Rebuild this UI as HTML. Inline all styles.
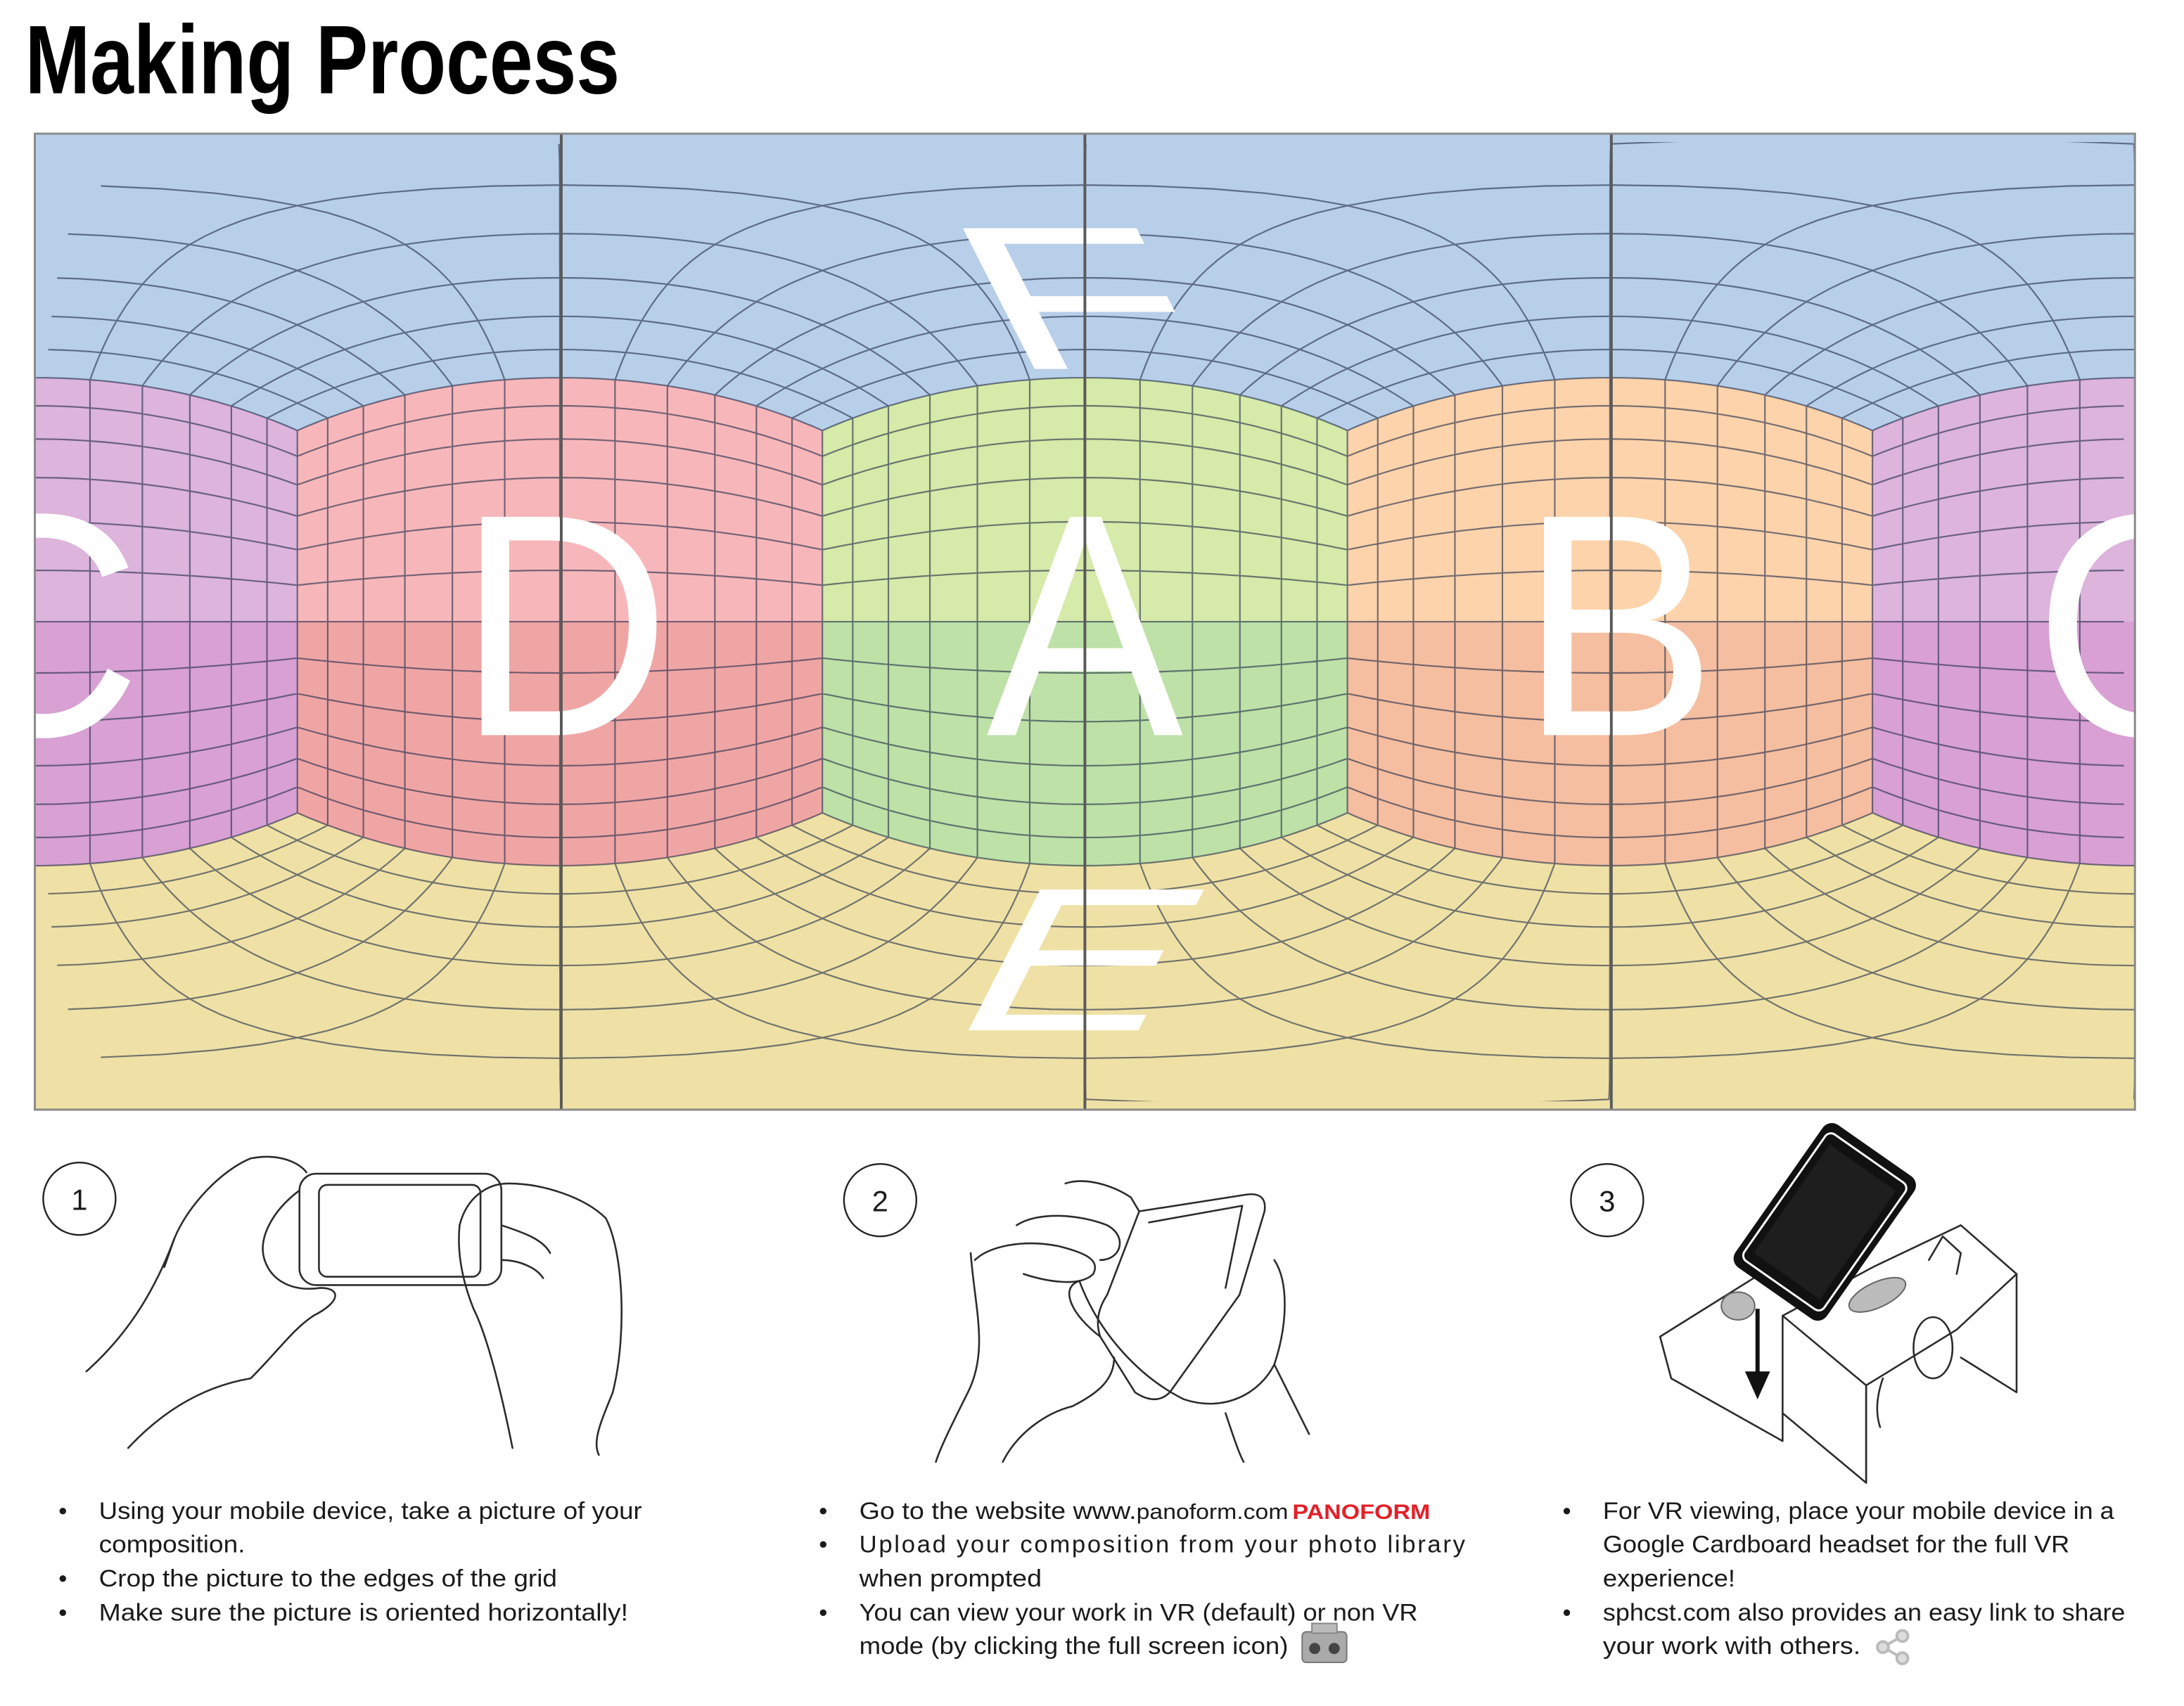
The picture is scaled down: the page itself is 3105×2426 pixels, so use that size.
<!DOCTYPE html>
<html><head><meta charset="utf-8"><style>
html,body{margin:0;padding:0;background:#fff;width:3105px;height:2426px;overflow:hidden}
svg{display:block}
.t{font-family:"Liberation Sans",sans-serif;font-size:17.5px;fill:#1a1a1a}
.ln{fill:none;stroke:#2b2b2b;stroke-width:1.3;stroke-linecap:round;stroke-linejoin:round}
</style></head><body>
<svg id="s" width="3105" height="2426" viewBox="0 0 1568.2 1225.3" xmlns="http://www.w3.org/2000/svg">
<defs><clipPath id="pc"><rect x="25" y="96" width="1508" height="701"/></clipPath>
<clipPath id="gc"><rect x="25" y="102" width="1508" height="689"/></clipPath></defs>
<text x="18" y="67" textLength="427" lengthAdjust="spacingAndGlyphs" style="font-family:'Liberation Sans Narrow','Liberation Sans',sans-serif;font-weight:bold;font-size:70px;fill:#000">Making Process</text>

<g clip-path="url(#pc)">
  <rect x="25" y="96" width="1508" height="350" fill="#b8cfea"/>
  <rect x="25" y="446" width="1508" height="351" fill="#efe1a5"/>
  <g id="faces"></g>
  <g id="grid" clip-path="url(#gc)" fill="none" stroke="rgba(35,45,75,0.62)" stroke-width="1.1"></g>
  <g fill="#fff" style="font-family:'Liberation Sans',sans-serif;font-size:228px" text-anchor="middle">
    <text x="0" y="0" transform="translate(405,528) scale(0.93,1)">D</text>
    <text x="0" y="0" transform="translate(779,528) scale(0.93,1)">A</text>
    <text x="0" y="0" transform="translate(1162,528) scale(0.93,1)">B</text>
    <text x="0" y="0" transform="translate(25,528) scale(0.93,1)">C</text>
    <text x="0" y="0" transform="translate(1537,528) scale(0.93,1)">C</text>
  </g>
  <g fill="#fff" style="font-family:'Liberation Sans',sans-serif;font-size:150px">
    <text x="0" y="0" transform="translate(722,265) skewX(27) scale(1.7,0.98)">F</text>
    <text x="0" y="0" transform="translate(677,740) skewX(-27) scale(1.5,0.98)">E</text>
  </g>
  <g stroke="#5a5a5a" stroke-width="2">
    <line x1="403" y1="96" x2="403" y2="797"/><line x1="779" y1="96" x2="779" y2="797"/><line x1="1157" y1="96" x2="1157" y2="797"/>
  </g>
</g>
<rect x="25" y="96" width="1508" height="701" fill="none" stroke="#8a8a8a" stroke-width="1.5"/>

<g fill="none" stroke="#222" stroke-width="1.2">
<circle cx="57" cy="861" r="26"/><circle cx="632" cy="862" r="26"/><circle cx="1154" cy="862" r="26"/></g>
<g class="t" text-anchor="middle" style="font-size:21px"><text x="57" y="869">1</text><text x="632" y="870">2</text><text x="1154" y="870">3</text></g>

<g class="ln">
<rect x="215" y="843" width="145" height="80" rx="12"/>
<rect x="229" y="851" width="116" height="66" rx="6"/>
<path d="M62 985 C90 960 110 930 125 890 C135 865 160 840 180 832 C200 828 215 835 220 842"/>
<path d="M92 1040 C120 1010 150 995 180 990 C200 970 210 955 225 945 C245 935 245 925 230 925 C210 928 195 920 190 905 C185 890 195 870 215 855"/>
<path d="M330 880 C335 860 350 850 365 850 C390 850 420 860 435 875 C448 900 450 960 440 1000 C432 1020 425 1035 430 1045"/>
<path d="M330 880 C328 900 332 920 340 940 C350 960 360 1000 368 1040"/>
<path d="M360 880 C375 885 390 890 395 900"/><path d="M360 905 C372 905 385 910 390 918"/>
<path d="M125 890 L118 910"/>
</g>
<g class="ln">
<path d="M818 870 L895 858 Q910 856 908 870 L890 930 L840 1000 Q830 1010 815 1000 L790 960 Q785 945 795 930 Z"/>
<path d="M825 878 L892 866 L880 925"/>
<path d="M765 850 C780 845 800 852 812 860 L818 870"/>
<path d="M700 905 C710 895 735 890 760 895 C780 900 790 905 785 915 C775 925 750 920 735 915"/>
<path d="M730 880 C745 870 775 872 795 880 C810 888 805 905 790 905"/>
<path d="M697 900 C700 940 710 970 695 1000 C685 1020 675 1040 672 1050"/>
<path d="M775 920 C790 960 820 990 850 1005 C880 1015 905 1000 915 980 C925 950 925 920 915 905"/>
<path d="M775 920 C760 925 770 945 790 960"/>
<path d="M720 1050 C730 1030 750 1015 770 1010 C790 1000 800 990 800 975"/>
<path d="M915 980 C925 1000 935 1020 940 1030"/>
<path d="M880 1015 C885 1030 890 1045 893 1050"/>
</g>
<g class="ln">
<path d="M1192 960 L1280 905 L1350 870"/>
<path d="M1192 960 L1200 990 L1280 1035 L1280 1015"/>
<path d="M1280 945 L1280 1015 L1340 1065 L1340 995 Z"/>
<path d="M1280 945 L1345 910 L1408 880 L1448 915 L1448 1000 L1408 975"/>
<path d="M1340 995 L1405 955 L1448 915"/>
<path d="M1340 995 L1340 1065"/>
<path d="M1385 905 L1395 888 L1408 900 L1405 915"/>
<ellipse cx="1388" cy="968" rx="14" ry="22"/>
<path d="M1352 990 Q1345 1010 1350 1025"/>
</g>
<ellipse cx="1348" cy="930" rx="22" ry="9" transform="rotate(-25 1348 930)" fill="#bbb" stroke="#666"/>
<ellipse cx="1248" cy="938" rx="12" ry="10" fill="#bbb" stroke="#666"/>
<g transform="rotate(35 1310 878)">
<rect x="1270" y="815" width="80" height="125" rx="8" fill="#111"/>
<rect x="1275" y="822" width="70" height="111" rx="5" fill="none" stroke="#fff" stroke-width="1.5"/>
<rect x="1281" y="830" width="58" height="95" fill="#1e1e1e"/>
</g>
<line x1="1262" y1="940" x2="1262" y2="990" stroke="#111" stroke-width="3"/>
<path d="M1253 985 L1271 985 L1262 1005 Z" fill="#111"/>

<g class="t">
<text x="42" y="1091">•</text><text x="71" y="1091" textLength="390" lengthAdjust="spacingAndGlyphs">Using your mobile device, take a picture of your</text>
<text x="71" y="1115" textLength="105" lengthAdjust="spacingAndGlyphs">composition.</text>
<text x="42" y="1139.5">•</text><text x="71" y="1139.5" textLength="329" lengthAdjust="spacingAndGlyphs">Crop the picture to the edges of the grid</text>
<text x="42" y="1164">•</text><text x="71" y="1164" textLength="380" lengthAdjust="spacingAndGlyphs">Make sure the picture is oriented horizontally!</text>

<text x="588" y="1091">•</text><text x="617" y="1091" textLength="199" lengthAdjust="spacingAndGlyphs">Go to the website www.</text>
<text x="816" y="1091" textLength="109" lengthAdjust="spacingAndGlyphs" style="font-size:15.5px">panoform.com</text>
<text x="928" y="1091" textLength="99" lengthAdjust="spacingAndGlyphs" style="font-size:15px;font-weight:bold;fill:#e3202a">PANOFORM</text>
<text x="588" y="1115">•</text><text x="617" y="1115" textLength="435" lengthAdjust="spacing">Upload your composition from your photo library</text>
<text x="617" y="1139.5" textLength="131" lengthAdjust="spacingAndGlyphs">when prompted</text>
<text x="588" y="1164">•</text><text x="617" y="1164" textLength="401" lengthAdjust="spacingAndGlyphs">You can view your work in VR (default) or non VR</text>
<text x="617" y="1188" textLength="308" lengthAdjust="spacingAndGlyphs">mode (by clicking the full screen icon)</text>

<text x="1122" y="1091">•</text><text x="1151" y="1091" textLength="367" lengthAdjust="spacingAndGlyphs">For VR viewing, place your mobile device in a</text>
<text x="1151" y="1115" textLength="335" lengthAdjust="spacingAndGlyphs">Google Cardboard headset for the full VR</text>
<text x="1151" y="1139.5" textLength="95" lengthAdjust="spacingAndGlyphs">experience!</text>
<text x="1122" y="1164">•</text><text x="1151" y="1164" textLength="375" lengthAdjust="spacingAndGlyphs">sphcst.com also provides an easy link to share</text>
<text x="1151" y="1188" textLength="185" lengthAdjust="spacingAndGlyphs">your work with others.</text>
</g>
<rect x="935" y="1172" width="32" height="22" rx="3" fill="#aaa" stroke="#777"/>
<rect x="942" y="1166" width="18" height="7" fill="#bbb" stroke="#888"/>
<circle cx="944" cy="1184" r="4" fill="#444"/><circle cx="958" cy="1184" r="4" fill="#444"/>
<g stroke="#bbb" stroke-width="2" fill="#ddd"><line x1="1352" y1="1183" x2="1366" y2="1175"/><line x1="1352" y1="1183" x2="1366" y2="1191"/>
<circle cx="1352" cy="1183" r="4"/><circle cx="1366" cy="1175" r="4"/><circle cx="1366" cy="1191" r="4"/></g>
</svg>
<script>
(function(){
var NS="http://www.w3.org/2000/svg",W=1508,CX=779,EQ=446.5,HH=350.5;
function proj(x,y,z){var lon=Math.atan2(x,z),lat=Math.atan2(y,Math.hypot(x,z));return [CX+lon/(2*Math.PI)*W,EQ-lat/(Math.PI/2)*HH];}
var faces=[function(u,v){return[u,v,1]},function(u,v){return[1,v,-u]},function(u,v){return[-u,v,-1]},function(u,v){return[-1,v,u]},function(u,v){return[u,1,-v]},function(u,v){return[u,-1,v]}];
var grid=document.getElementById("grid"),fg=document.getElementById("faces");
function add(g,d,attrs){var p=document.createElementNS(NS,"path");p.setAttribute("d",d);if(attrs)for(var k in attrs)p.setAttribute(k,attrs[k]);g.appendChild(p);}
function poly(pts){var segs=[],cur=[];for(var i=0;i<pts.length;i++){if(cur.length&&Math.abs(pts[i][0]-cur[cur.length-1][0])>W*0.15){segs.push(cur);cur=[];}cur.push(pts[i]);}if(cur.length)segs.push(cur);
 var out="";segs.forEach(function(s){if(s.length<2)return;[-W,0,W].forEach(function(sh){out+="M"+s.map(function(p){return (p[0]+sh).toFixed(1)+" "+p[1].toFixed(1)}).join("L");});});return out;}
var N=12,S=60,d="";
faces.forEach(function(f,fi){for(var i=0;i<=N;i++){var a=-1+2*i/N;if(fi>=4&&Math.abs(a)<1e-9)a=1e-4;var p1=[],p2=[];for(var j=0;j<=S;j++){var b=-1+2*j/S;if(fi>=4&&Math.abs(b)<1e-9)b=1e-4;var q=f(a,b),r=f(b,a);p1.push(proj(q[0],q[1],q[2]));p2.push(proj(r[0],r[1],r[2]));}d+=poly(p1)+poly(p2);}});
add(grid,d);
function facePoly(v0,v1){var pts=[],f=faces[0],k;for(k=0;k<=S;k++){var u=-1+2*k/S;pts.push(proj.apply(null,f(u,v1)));}for(k=S;k>=0;k--){var u2=-1+2*k/S;pts.push(proj.apply(null,f(u2,v0)));}return pts;}
var up=facePoly(0,1),lo=facePoly(-1,0);
var cols=[["#dcb4dc","#d8a0d3"],["#f7b7ba","#f0a5a5"],["#d6eaa9","#bde1a7"],["#fdd3ab","#f5bea0"],["#dcb4dc","#d8a0d3"]];
for(var k=-2;k<=2;k++){var sh=k*W/4,c=cols[k+2];
 add(fg,"M"+up.map(function(p){return (p[0]+sh).toFixed(1)+" "+p[1].toFixed(1)}).join("L")+"Z",{fill:c[0]});
 add(fg,"M"+lo.map(function(p){return (p[0]+sh).toFixed(1)+" "+p[1].toFixed(1)}).join("L")+"Z",{fill:c[1]});}
})();
</script>
</body></html>
